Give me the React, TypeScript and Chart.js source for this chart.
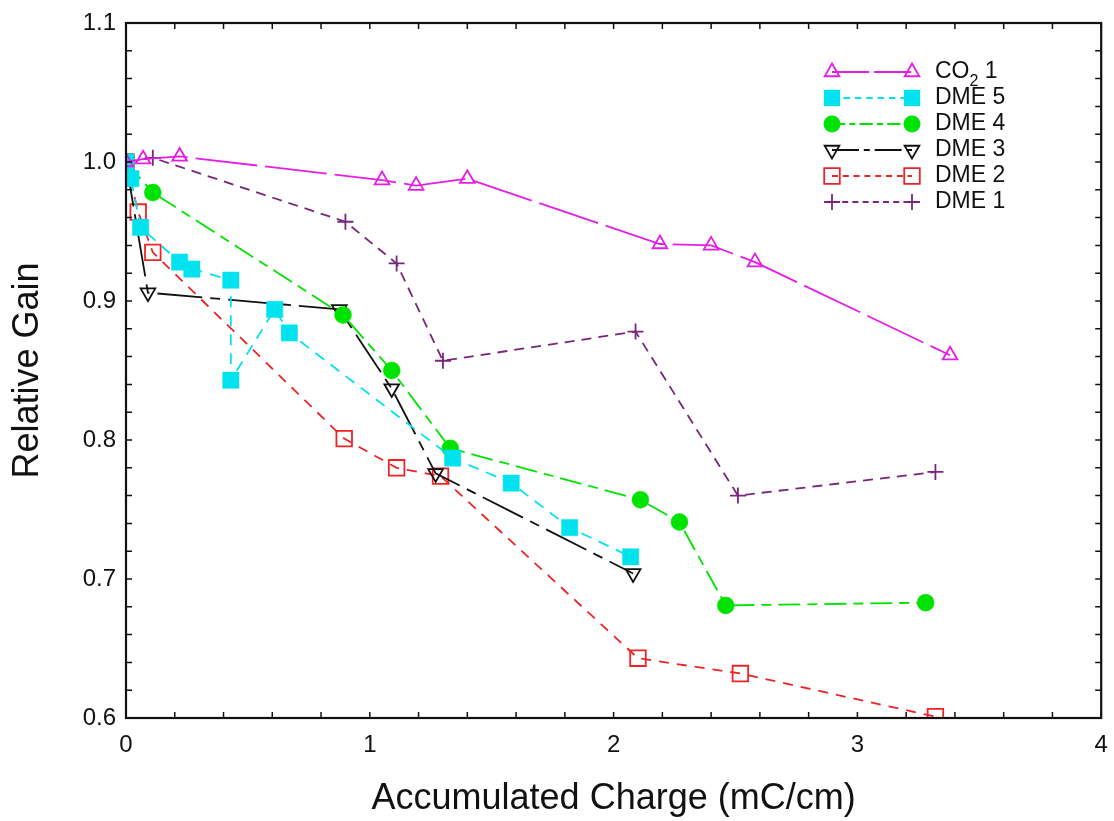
import React, { useEffect, useRef } from 'react';
import { Chart, registerables } from 'chart.js';

Chart.register(...registerables);

// Accumulated charge (mC/cm) and relative gain for each gas mixture
const co2X = [0, 0.07, 0.22, 1.05, 1.19, 1.40, 2.19, 2.40, 2.58, 3.38];
const co2Y = [1.0, 1.002, 1.004, 0.987, 0.983, 0.988, 0.941, 0.940, 0.928, 0.861];

const dme5X = [0, 0.02, 0.06, 0.22, 0.27, 0.43, 0.43, 0.61, 0.67, 1.34, 1.58, 1.82, 2.07];
const dme5Y = [1.0, 0.988, 0.953, 0.928, 0.923, 0.915, 0.843, 0.894, 0.877, 0.787, 0.769, 0.737, 0.716];

const dme4X = [0, 0.11, 0.89, 1.09, 1.33, 2.11, 2.27, 2.46, 3.28];
const dme4Y = [1.0, 0.978, 0.89, 0.85, 0.794, 0.757, 0.741, 0.681, 0.683];

const dme3X = [0, 0.09, 0.875, 1.09, 1.27, 2.08];
const dme3Y = [1.0, 0.906, 0.894, 0.837, 0.776, 0.704];

const dme2X = [0, 0.05, 0.11, 0.895, 1.11, 1.29, 2.10, 2.52, 3.32];
const dme2Y = [1.0, 0.964, 0.935, 0.801, 0.780, 0.774, 0.643, 0.632, 0.601];

const dme1X = [0, 0.11, 0.90, 1.11, 1.30, 2.09, 2.51, 3.32];
const dme1Y = [1.0, 1.003, 0.957, 0.927, 0.857, 0.878, 0.760, 0.777];

const xTicks = [0, 1, 2, 3, 4];
const yTicks = [0.6, 0.7, 0.8, 0.9, 1.0, 1.1];

const FONT = '"Liberation Sans", Arial, Helvetica, sans-serif';

type Series = {
  label: string;
  xs: number[];
  ys: number[];
  color: string;
  dash: number[];
  pointStyle: string;
  rotation: number;
  radius: number;
  filled: boolean;
};

const series: Series[] = [
  { label: 'CO2 1', xs: co2X, ys: co2Y, color: '#e51ee5', dash: [62, 8], pointStyle: 'triangle', rotation: 0, radius: 8.5, filled: false },
  { label: 'DME 5', xs: dme5X, ys: dme5Y, color: '#00e3ef', dash: [11, 8], pointStyle: 'rect', rotation: 0, radius: 11.5, filled: true },
  { label: 'DME 4', xs: dme4X, ys: dme4Y, color: '#00e300', dash: [22, 7, 10, 7], pointStyle: 'circle', rotation: 0, radius: 8.5, filled: true },
  { label: 'DME 3', xs: dme3X, ys: dme3Y, color: '#111111', dash: [45, 8, 10, 8], pointStyle: 'triangle', rotation: 180, radius: 8.5, filled: false },
  { label: 'DME 2', xs: dme2X, ys: dme2Y, color: '#ee2424', dash: [10, 8], pointStyle: 'rect', rotation: 0, radius: 11, filled: false },
  { label: 'DME 1', xs: dme1X, ys: dme1Y, color: '#7a257c', dash: [10, 7], pointStyle: 'cross', rotation: 0, radius: 8, filled: false },
];

// Simple marker painter shared by the legend
function marker(ctx: CanvasRenderingContext2D, s: Series, x: number, y: number) {
  const r = s.radius;
  ctx.save();
  ctx.setLineDash([]);
  ctx.lineWidth = 1.8;
  ctx.strokeStyle = s.color;
  ctx.fillStyle = s.color;
  ctx.beginPath();
  if (s.pointStyle === 'circle') {
    ctx.arc(x, y, r, 0, Math.PI * 2);
    ctx.fill();
  } else if (s.pointStyle === 'rect') {
    const h = r * Math.SQRT1_2;
    ctx.rect(x - h, y - h, 2 * h, 2 * h);
    if (s.filled) ctx.fill();
    else ctx.stroke();
  } else if (s.pointStyle === 'triangle') {
    let a = (s.rotation * Math.PI) / 180;
    ctx.moveTo(x + Math.sin(a) * r, y - Math.cos(a) * r);
    a += (2 * Math.PI) / 3;
    ctx.lineTo(x + Math.sin(a) * r, y - Math.cos(a) * r);
    a += (2 * Math.PI) / 3;
    ctx.lineTo(x + Math.sin(a) * r, y - Math.cos(a) * r);
    ctx.closePath();
    ctx.stroke();
  } else if (s.pointStyle === 'cross') {
    ctx.moveTo(x, y - r);
    ctx.lineTo(x, y + r);
    ctx.moveTo(x - r, y);
    ctx.lineTo(x + r, y);
    ctx.stroke();
  }
  ctx.restore();
}

const framePlugin = {
  id: 'frameTicks',
  afterDraw(chart: any) {
    const { ctx, chartArea } = chart;
    const xs = chart.scales.x;
    const ys = chart.scales.y;
    const { left, right, top, bottom } = chartArea;
    ctx.save();
    ctx.strokeStyle = '#111';
    ctx.lineWidth = 1.5;
    ctx.setLineDash([]);
    ctx.beginPath();
    for (let i = 0; i <= 20; i++) {
      const px = xs.getPixelForValue(i * 0.2);
      ctx.moveTo(px, bottom);
      ctx.lineTo(px, bottom - 6);
      ctx.moveTo(px, top);
      ctx.lineTo(px, top + 6);
    }
    for (let i = 0; i <= 25; i++) {
      const py = ys.getPixelForValue(0.6 + i * 0.02);
      ctx.moveTo(left, py);
      ctx.lineTo(left + 6, py);
      ctx.moveTo(right, py);
      ctx.lineTo(right - 6, py);
    }
    ctx.stroke();
    ctx.lineWidth = 2.2;
    ctx.strokeRect(left, top, right - left, bottom - top);

    // legend: marker — line — marker, then the label
    const x1 = 832;
    const x2 = 912;
    const tx = 935;
    series.forEach((s, i) => {
      const y = 72 + i * 26;
      ctx.save();
      ctx.strokeStyle = s.color;
      ctx.lineWidth = 1.8;
      ctx.setLineDash(s.dash.map((d) => d * 0.6));
      ctx.beginPath();
      ctx.moveTo(x1, y);
      ctx.lineTo(x2, y);
      ctx.stroke();
      ctx.restore();
      marker(ctx, s, x1, y);
      marker(ctx, s, x2, y);
      ctx.fillStyle = '#111';
      ctx.textBaseline = 'middle';
      ctx.textAlign = 'left';
      ctx.font = `23px ${FONT}`;
      if (s.label === 'CO2 1') {
        ctx.fillText('CO', tx, y);
        const w = ctx.measureText('CO').width;
        ctx.font = `16px ${FONT}`;
        ctx.fillText('2', tx + w, y + 10);
        const w2 = ctx.measureText('2').width;
        ctx.font = `23px ${FONT}`;
        ctx.fillText(' 1', tx + w + w2, y);
      } else {
        ctx.fillText(s.label, tx, y);
      }
    });
    ctx.restore();
  },
};

export default function App() {
  const ref = useRef<HTMLCanvasElement>(null);

  useEffect(() => {
    if (!ref.current) return;
    const datasets = series.map((s) => ({
      label: s.label,
      data: s.xs.map((x, i) => ({ x, y: s.ys[i] })),
      borderColor: s.color,
      backgroundColor: s.filled ? s.color : 'rgba(0,0,0,0)',
      borderWidth: 1.8,
      borderDash: s.dash,
      pointStyle: s.pointStyle,
      rotation: s.rotation,
      pointRadius: s.radius,
      pointBorderWidth: s.filled ? 0.5 : 1.8,
      pointBorderColor: s.color,
      pointBackgroundColor: s.filled ? s.color : 'rgba(0,0,0,0)',
      tension: 0,
      fill: false,
    }));

    const chart = new Chart(ref.current, {
      type: 'line',
      data: { datasets },
      options: {
        animation: false,
        responsive: false,
        maintainAspectRatio: false,
        layout: { padding: { top: 23, right: 10, left: 0, bottom: 0 } },
        plugins: { legend: { display: false }, tooltip: { enabled: false } },
        scales: {
          x: {
            type: 'linear',
            min: 0,
            max: 4,
            afterBuildTicks: (scale: any) => {
              scale.ticks = xTicks.map((v) => ({ value: v }));
            },
            afterFit: (scale: any) => {
              scale.height = 103;
            },
            grid: { display: false },
            border: { display: false },
            ticks: {
              color: '#111',
              font: { size: 24, family: FONT },
              padding: 5,
              callback: (v: any) => String(v),
            },
            title: {
              display: true,
              text: 'Accumulated Charge (mC/cm)',
              color: '#111',
              font: { size: 36, family: FONT },
              padding: { top: 0, bottom: 0 },
            },
          },
          y: {
            type: 'linear',
            min: 0.6,
            max: 1.1,
            afterBuildTicks: (scale: any) => {
              scale.ticks = yTicks.map((v) => ({ value: v }));
            },
            afterFit: (scale: any) => {
              scale.width = 126;
            },
            grid: { display: false },
            border: { display: false },
            ticks: {
              color: '#111',
              font: { size: 24, family: FONT },
              padding: 2,
              callback: (v: any) => Number(v).toFixed(1),
            },
            title: {
              display: true,
              text: 'Relative Gain',
              color: '#111',
              font: { size: 36, family: FONT },
              padding: { top: 6, bottom: 0 },
            },
          },
        },
      },
      plugins: [framePlugin],
    } as any);
    return () => chart.destroy();
  }, []);

  return (
    <div style={{ position: 'fixed', left: 0, top: 0, width: 1114, height: 821, background: '#fff' }}>
      <canvas ref={ref} width={1114} height={821} style={{ width: 1114, height: 821, display: 'block' }} />
    </div>
  );
}
